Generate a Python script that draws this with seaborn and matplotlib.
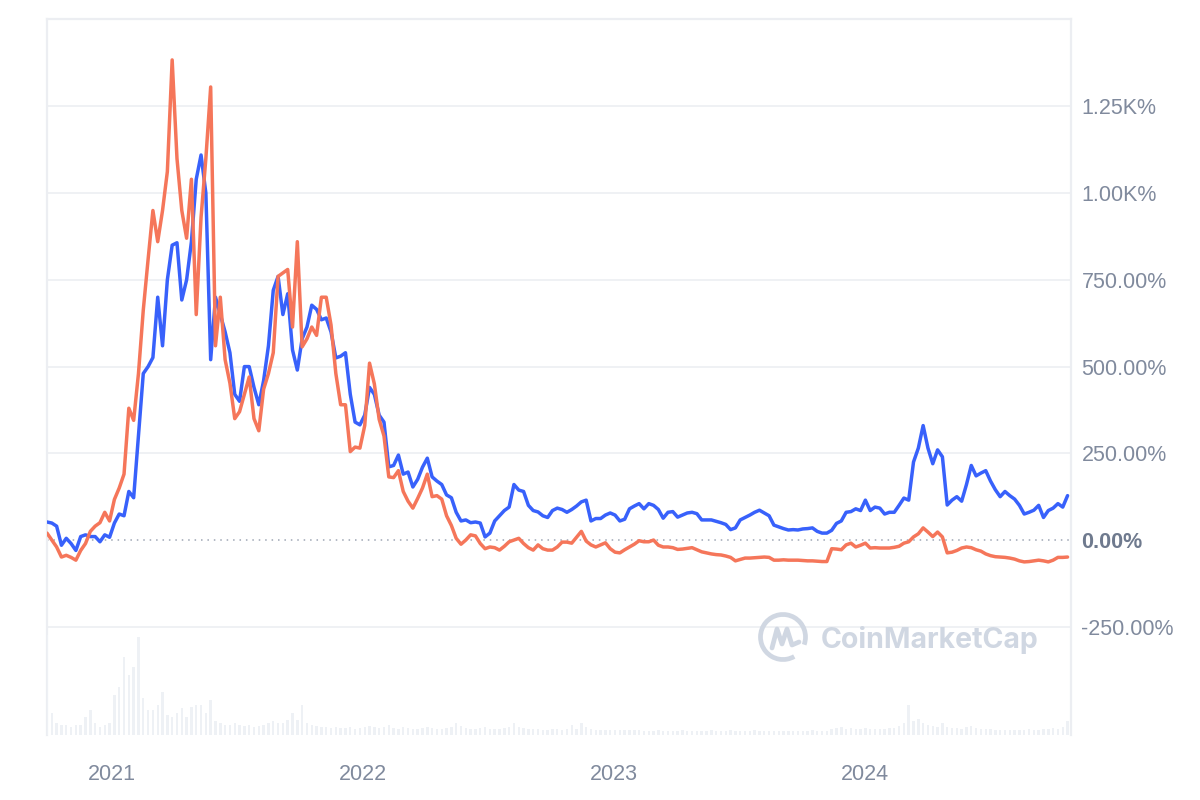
import numpy as np
import pandas as pd
import matplotlib
matplotlib.use("Agg")
import matplotlib.pyplot as plt
import matplotlib.dates as mdates
import seaborn as sns
from matplotlib.patches import Arc
from matplotlib.lines import Line2D

# ---------------- data (weekly samples) ----------------
start_date = "2020-09-29"
n_weeks = 213

blue_pct = [
    52, 49, 40, -15, 5, -10, -30, 10, 15, 10,
    10, -5, 15, 8, 49, 75, 70, 140, 122, 300,
    480, 500, 526, 700, 560, 750, 850, 857, 692, 750,
    860, 1040, 1110, 1000, 520, 700, 650, 600, 540, 420,
    400, 500, 500, 440, 390, 460, 560, 720, 760, 650,
    710, 548, 490, 580, 614, 677, 665, 635, 640, 600,
    525, 530, 540, 420, 340, 332, 360, 440, 420, 360,
    340, 211, 215, 245, 190, 196, 153, 175, 210, 236,
    182, 170, 160, 130, 122, 80, 55, 58, 50, 52,
    49, 9, 20, 55, 70, 85, 95, 160, 144, 140,
    100, 85, 81, 70, 65, 85, 92, 88, 80, 88,
    98, 110, 115, 55, 62, 62, 72, 78, 72, 55,
    60, 90, 98, 105, 90, 105, 100, 88, 63, 80,
    82, 66, 72, 78, 80, 76, 58, 58, 58, 54,
    50, 45, 30, 35, 58, 65, 72, 80, 86, 78,
    70, 43, 38, 33, 29, 30, 29, 32, 33, 35,
    25, 20, 20, 28, 48, 55, 80, 82, 90, 85,
    115, 85, 95, 92, 75, 80, 80, 100, 121, 115,
    225, 265, 330, 265, 220, 260, 240, 101, 115, 125,
    112, 160, 215, 185, 193, 200, 170, 145, 125, 140,
    128, 118, 100, 75, 80, 86, 100, 65, 85, 92,
    105, 95, 128,
]

orange_pct = [
    20, 0, -20, -49, -44, -50, -58, -30, -10, 25,
    40, 50, 80, 55, 117, 150, 190, 380, 345, 480,
    663, 809, 950, 860, 950, 1062, 1384, 1100, 950, 870,
    1040, 650, 930, 1100, 1306, 560, 700, 520, 452, 350,
    370, 420, 470, 350, 315, 435, 480, 540, 760, 770,
    780, 614, 860, 557, 580, 614, 590, 700, 700, 620,
    480, 390, 390, 255, 268, 265, 330, 510, 450, 348,
    300, 182, 180, 200, 140, 112, 92, 120, 150, 190,
    125, 128, 118, 70, 42, 5, -12, 0, 15, 12,
    -10, -25, -20, -22, -29, -18, -5, 0, 5, -10,
    -22, -29, -14, -25, -29, -29, -20, -6, -6, -9,
    8, 25, -3, -14, -20, -14, -8, -25, -35, -37,
    -28, -20, -12, -2, -5, -5, 0, -15, -20, -20,
    -22, -27, -26, -24, -22, -28, -34, -37, -40, -42,
    -43, -46, -50, -60, -56, -52, -52, -51, -50, -49,
    -50, -58, -58, -57, -58, -58, -58, -59, -60, -60,
    -61, -62, -62, -25, -26, -28, -14, -9, -20, -15,
    -9, -23, -22, -23, -23, -23, -21, -18, -9, -5,
    9, 18, 35, 23, 10, 23, 9, -37, -35, -30,
    -23, -20, -22, -28, -32, -40, -45, -48, -49, -50,
    -52, -55, -60, -63, -62, -60, -58, -60, -63, -58,
    -50, -50, -49,
]

volume_rel = [
    100, 22, 12, 10, 10, 8, 10, 10, 18, 25,
    12, 8, 10, 12, 40, 48, 78, 60, 68, 98,
    37, 25, 25, 30, 43, 20, 18, 22, 27, 18,
    28, 30, 30, 22, 35, 14, 12, 10, 10, 12,
    10, 9, 10, 8, 9, 10, 12, 14, 12, 12,
    15, 22, 15, 30, 12, 10, 9, 8, 8, 7,
    8, 7, 7, 8, 6, 7, 8, 9, 8, 7,
    8, 10, 7, 6, 8, 7, 6, 6, 7, 8,
    7, 6, 6, 7, 8, 12, 9, 7, 6, 6,
    7, 8, 6, 6, 6, 7, 8, 12, 8, 7,
    6, 6, 6, 5, 5, 6, 6, 5, 6, 10,
    6, 12, 8, 6, 5, 5, 5, 5, 5, 5,
    5, 5, 5, 5, 4, 4, 4, 5, 4, 4,
    4, 4, 5, 4, 4, 4, 4, 4, 5, 4,
    4, 4, 5, 4, 4, 4, 4, 5, 4, 4,
    4, 4, 4, 4, 4, 4, 4, 4, 4, 5,
    4, 4, 4, 6, 7, 8, 6, 7, 6, 6,
    7, 6, 6, 6, 6, 7, 7, 9, 12, 30,
    14, 16, 12, 10, 9, 8, 12, 8, 7, 7,
    6, 8, 9, 7, 6, 6, 6, 5, 5, 5,
    5, 5, 5, 5, 6, 5, 5, 6, 6, 7,
    6, 8, 14,
]

ytick_values = [-250, 0, 250, 500, 750, 1000, 1250]
ytick_labels = ["-250.00%", "0.00%", "250.00%", "500.00%", "750.00%", "1.00K%", "1.25K%"]

dates = pd.date_range(start_date, periods=n_weeks, freq="7D")
df = pd.DataFrame({"date": dates, "blue": blue_pct, "orange": orange_pct, "vol": volume_rel})

# ---------------- style ----------------
BLUE = "#3861fb"
ORANGE = "#f5765a"
TXT = "#808a9d"
GRID = "#eff1f4"
SPINE = "#eceef2"

sns.set_theme(style="white")
plt.rcParams["font.family"] = ["Liberation Sans", "DejaVu Sans"]

W, H = 1200, 800
fig = plt.figure(figsize=(12, 8), dpi=100)
fig.patch.set_facecolor("white")

ax = fig.add_axes([47 / W, (H - 735) / H, 1024 / W, (735 - 19) / H])
ax.set_facecolor("none")

for v in ytick_values:
    if v != 0:
        ax.axhline(v, color=GRID, lw=1.4, zorder=0)
ax.axhline(0, color="#9ea6b4", lw=1.1, ls=(0, (1, 3.2)), zorder=1)

sns.lineplot(data=df, x="date", y="blue", ax=ax, color=BLUE, linewidth=2.5,
             solid_joinstyle="round", zorder=3)
sns.lineplot(data=df, x="date", y="orange", ax=ax, color=ORANGE, linewidth=2.5,
             solid_joinstyle="round", zorder=4)

ax.set_ylim(-562, 1502)
ax.set_xlim(dates[0], dates[0] + pd.Timedelta(days=1489))
ax.set_xlabel("")
ax.set_ylabel("")

ax.yaxis.tick_right()
ax.set_yticks(ytick_values)
ax.set_yticklabels(ytick_labels)
ax.tick_params(axis="y", length=0, pad=7.5, labelsize=15.5, labelcolor=TXT)
for lab in ax.get_yticklabels():
    if lab.get_text() == "0.00%":
        lab.set_fontweight("bold")
        lab.set_color("#6f7a8e")

ax.xaxis.set_major_locator(mdates.YearLocator())
ax.xaxis.set_major_formatter(mdates.DateFormatter("%Y"))
ax.tick_params(axis="x", length=0, pad=21, labelsize=15.5, labelcolor=TXT)
ax.grid(False)

for side in ["top", "left", "right"]:
    ax.spines[side].set_color(SPINE)
    ax.spines[side].set_linewidth(1.6)
ax.spines["bottom"].set_visible(False)

# volume panel
axv = fig.add_axes([47 / W, (H - 735) / H, 1024 / W, (735 - 626) / H], sharex=ax)
axv.set_facecolor("none")
axv.bar(df["date"], df["vol"], width=3.5, color="#eef1f5", linewidth=0)
axv.set_ylim(0, 109)
axv.axis("off")

# watermark
WM = "#d0d7e2"
ov = fig.add_axes([0, 0, 1, 1])
ov.set_xlim(0, W)
ov.set_ylim(H, 0)
ov.axis("off")
ov.add_patch(Arc((783, 637), 45, 45, theta1=60, theta2=380, color=WM, lw=3.4))
ov.add_line(Line2D([772, 777, 782, 787, 792, 799], [648, 629, 644, 629, 645, 642],
                   color=WM, lw=3.4, solid_joinstyle="round", solid_capstyle="round"))
ov.text(821, 640, "CoinMarketCap", fontsize=20.5, fontweight="bold", color=WM,
        va="center", ha="left", family=["Inter", "DejaVu Sans"])

fig.savefig("out.png", dpi=100)
